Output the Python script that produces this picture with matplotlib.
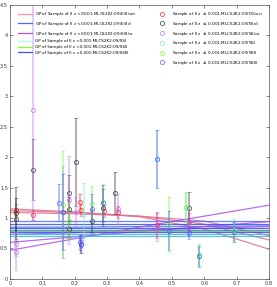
import numpy as np
import matplotlib
matplotlib.use('Agg')
import matplotlib.pyplot as plt

# GP curves (mean and +/- bounds), sampled at a few x positions
gp_x = [0.0, 0.2, 0.4, 0.6, 0.8]
gp_esi_lower = [[1.15, 1.10, 1.02, 0.82, 0.49],
                [1.12, 1.09, 1.03, 0.90, 0.64],
                [1.09, 1.07, 1.03, 0.95, 0.71]]
gp_esi_all = [[0.95, 0.95, 0.95, 0.95, 0.95],
              [0.85, 0.85, 0.86, 0.86, 0.87],
              [0.80, 0.80, 0.80, 0.80, 0.80]]
gp_ssi_low = [[0.47, 0.66, 0.85, 1.03, 1.21],
              [0.60, 0.69, 0.78, 0.86, 0.94],
              [0.73, 0.76, 0.80, 0.83, 0.86]]
gp_ssi = [[0.74, 0.74, 0.74, 0.74, 0.74],
          [0.71, 0.71, 0.71, 0.71, 0.71]]
gp_ssii = [[0.78, 0.78, 0.78, 0.78, 0.78]]
gp_ssiii = [[0.90, 0.90, 0.90, 0.90, 0.90],
            [0.83, 0.83, 0.83, 0.83, 0.83],
            [0.77, 0.77, 0.77, 0.77, 0.77]]

# samples
red_x = [0.02, 0.07, 0.215, 0.22, 0.29, 0.333, 0.453, 0.553]
red_y = [1.13, 1.05, 1.27, 1.13, 1.12, 1.10, 0.88, 0.93]
red_e = [0.10, 0.08, 0.13, 0.10, 0.10, 0.10, 0.20, 0.15]

blk_x = [0.02, 0.02, 0.07, 0.183, 0.183, 0.183, 0.204, 0.22, 0.252, 0.288, 0.324, 0.553]
blk_y = [1.08, 0.98, 1.79, 1.41, 1.15, 0.82, 1.92, 0.57, 0.95, 1.17, 1.41, 1.17]
blk_e = [0.43, 0.35, 0.50, 0.30, 0.20, 0.15, 0.72, 0.15, 0.20, 0.30, 0.35, 0.25]

pur_x = [0.02, 0.02, 0.07, 0.165, 0.183, 0.204, 0.22, 0.333, 0.453, 0.553]
pur_y = [0.57, 0.45, 2.77, 1.10, 1.30, 1.10, 0.65, 1.15, 0.86, 0.94]
pur_e = [0.20, 0.31, 1.80, 0.75, 0.72, 0.25, 0.15, 0.25, 0.24, 0.20]

cya_x = [0.23, 0.453, 0.543, 0.584, 0.691]
cya_y = [1.07, 1.97, 1.17, 0.37, 0.77]
cya_e = [0.50, 0.47, 0.24, 0.17, 0.17]

grn_x = [0.165, 0.183, 0.252, 0.288, 0.49, 0.543, 0.584, 0.691]
grn_y = [1.22, 0.95, 1.23, 1.26, 0.90, 1.18, 0.40, 0.80]
grn_e = [0.88, 0.30, 0.30, 0.30, 0.45, 0.24, 0.17, 0.18]

blu_x = [0.152, 0.165, 0.216, 0.22, 0.252, 0.288, 0.453, 0.49, 0.553, 0.584, 0.691]
blu_y = [1.25, 1.10, 0.60, 0.55, 1.15, 1.24, 1.97, 0.79, 0.75, 0.37, 0.77]
blu_e = [0.30, 0.62, 0.12, 0.12, 0.25, 0.30, 0.47, 0.32, 0.10, 0.17, 0.17]

pre = 'GP of Sample of II z <0.001:MLCS2K2:09/'
spre = 'Sample of II z $\\leq$ 0.001:MLCS2K2:09/'

gp_groups = [
    (gp_esi_lower, '#e07090', pre + 'ESI$_{lower}$'),
    (gp_esi_all, '#4a6cff', pre + 'ESI$_{all}$'),
    (gp_ssi_low, '#b050f0', pre + 'SSI$_{low}$'),
    (gp_ssi, '#40b8d8', pre + 'SSI'),
    (gp_ssii, '#70e040', pre + 'SSII'),
    (gp_ssiii, '#3050f0', pre + 'SSIII'),
]
leg_colors = ['#f090a8', '#4a6cff', '#b050f0', '#a0fff0', '#80ff30', '#4a4aff']

pt_groups = [
    (red_x, red_y, red_e, '#ff2020', spre + 'D$_{\\Lambda lower}$'),
    (blk_x, blk_y, blk_e, '#303030', spre + 'ES$_{all}$'),
    (pur_x, pur_y, pur_e, '#c070ff', spre + 'SS$_{low}$'),
    (cya_x, cya_y, cya_e, '#70e8e8', spre + 'SSI'),
    (grn_x, grn_y, grn_e, '#70ff30', spre + 'SSII'),
    (blu_x, blu_y, blu_e, '#4a5aff', spre + 'SSIII'),
]

fig = plt.figure(figsize=(2.77, 2.87), dpi=100)
ax = fig.add_axes([0.036, 0.028, 0.935, 0.956])

for (lines, c, lab), lc in zip(gp_groups, leg_colors):
    for ly in lines:
        ax.plot(gp_x, ly, color=c, lw=0.9, alpha=0.85)
    ax.plot([], [], color=lc, lw=0.9, label=lab)

for xs, ys, es, c, lab in pt_groups:
    ax.errorbar(xs, ys, yerr=es, fmt='none', ecolor=c, elinewidth=1.2,
                capsize=1.5, capthick=0.6, alpha=0.45)
    ax.plot(xs, ys, 'o', mfc='none', mec=c, ms=3, mew=0.6, alpha=0.8,
            label=lab)

ax.set_xlim(0, 0.8)
ax.set_ylim(0, 4.5)
ax.set_xticks(np.arange(0, 0.81, 0.1))
ax.set_xticklabels(['0', '0.1', '0.2', '0.3', '0.4', '0.5', '0.6', '0.7', '0.8'])
ax.set_yticks(np.arange(0, 4.51, 0.5))
ax.set_yticklabels(['0', '0.5', '1', '1.5', '2', '2.5', '3', '3.5', '4', '4.5'])
ax.tick_params(direction='in', top=True, right=True, labelsize=3.6,
               length=2, width=0.4, pad=1.5, colors='#333333')
for s in ax.spines.values():
    s.set_linewidth(0.5)
    s.set_color('#555555')

ax.legend(loc='upper left', ncol=2, fontsize=3.0, frameon=False,
          handlelength=3.4, handletextpad=0.6, columnspacing=4.4,
          labelspacing=0.42, borderaxespad=0.9, bbox_to_anchor=(0.01, 1.0))

fig.savefig('out.png', dpi=100)
